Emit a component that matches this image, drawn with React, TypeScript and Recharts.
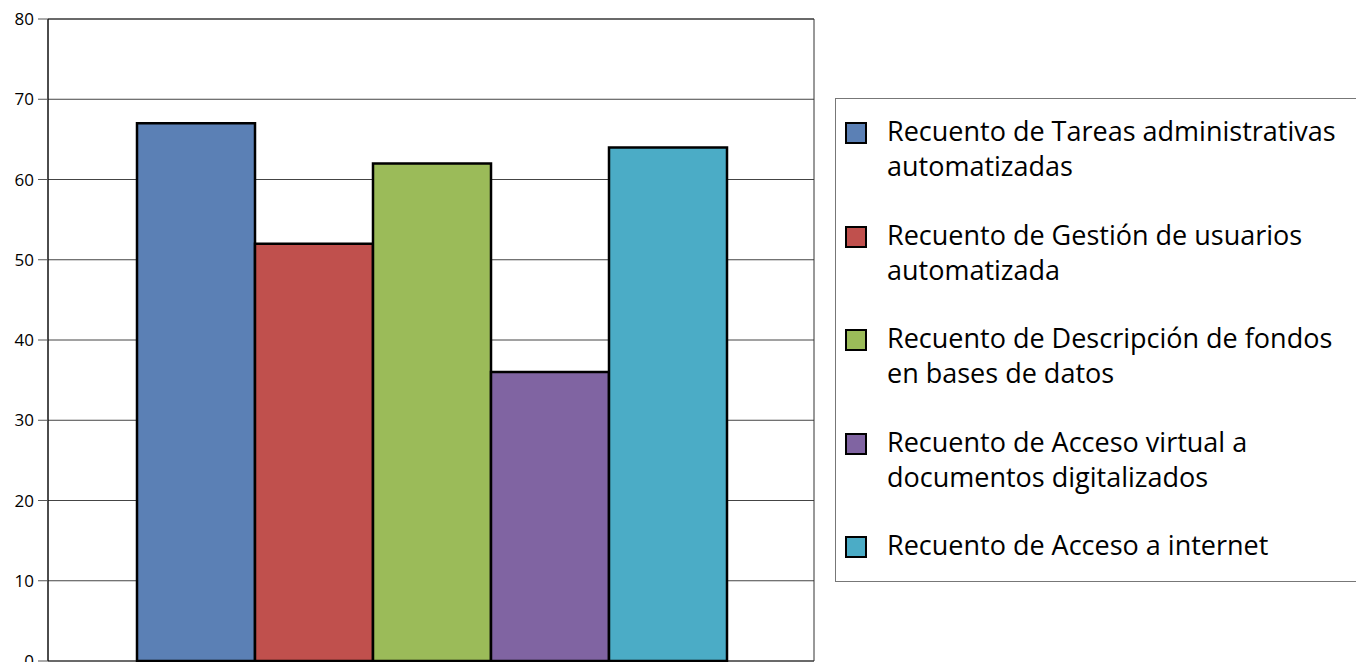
import { BarChart, Bar, XAxis, YAxis, CartesianGrid, ReferenceArea, Legend } from "recharts";

const SERIES = [
  "Recuento de Tareas administrativas automatizadas",
  "Recuento de Gestión de usuarios automatizada",
  "Recuento de Descripción de fondos en bases de datos",
  "Recuento de Acceso virtual a documentos digitalizados",
  "Recuento de Acceso a internet",
];
const LEGEND_LINES = [
  ["Recuento de Tareas administrativas", "automatizadas"],
  ["Recuento de Gestión de usuarios", "automatizada"],
  ["Recuento de Descripción de fondos", "en bases de datos"],
  ["Recuento de Acceso virtual a", "documentos digitalizados"],
  ["Recuento de Acceso a internet"],
];
const VALUES = [67, 52, 62, 36, 64];
const COLORS = ["#5b80b5", "#c0504d", "#9bbb59", "#8064a2", "#4bacc6"];
const Y_TICKS = [0, 10, 20, 30, 40, 50, 60, 70, 80];

const data = [
  SERIES.reduce((row: any, name, i) => {
    row[`s${i}`] = VALUES[i];
    return row;
  }, { cat: "" }),
];

function LegendBox() {
  return (
    <div
      style={{
        position: "absolute",
        left: 835,
        top: 98,
        width: 560,
        height: 484,
        border: "1px solid #777",
        background: "#fff",
        fontFamily: "'Open Sans', sans-serif",
        fontSize: 27,
        color: "#000",
        boxSizing: "border-box",
      }}
    >
      {LEGEND_LINES.map((lines, i) => (
        <div key={i} style={{ position: "absolute", left: 0, top: 16 + i * 103.5 }}>
          <div
            style={{
              position: "absolute",
              left: 9,
              top: 7,
              width: 18,
              height: 18,
              background: COLORS[i],
              border: "2px solid #000",
            }}
          />
          <div style={{ position: "absolute", left: 51, top: -2, lineHeight: "35px", whiteSpace: "nowrap" }}>
            {lines.map((l, j) => (
              <div key={j}>{l}</div>
            ))}
          </div>
        </div>
      ))}
    </div>
  );
}

export default function App() {
  return (
    <div style={{ position: "absolute", left: 0, top: 0, width: 1356, height: 662, overflow: "hidden", background: "#fff" }}>
      <BarChart
        width={1356}
        height={662}
        data={data}
        margin={{ top: 19, right: 542, left: 0, bottom: 1 }}
        barGap={0}
        barCategoryGap={89}
      >
        <CartesianGrid vertical={false} stroke="#444" strokeWidth={1} />
        <XAxis dataKey="cat" hide />
        <YAxis
          domain={[0, 80]}
          ticks={Y_TICKS}
          interval={0}
          width={48}
          tickSize={10}
          tickMargin={4}
          stroke="#000"
          tickLine={{ stroke: "#555" }}
          tick={{ fill: "#000", fontSize: 17, fontFamily: "'Open Sans', sans-serif" }}
        />
        <ReferenceArea y1={0} y2={80} fill="none" stroke="#333" strokeWidth={1} ifOverflow="visible" />
        {SERIES.map((name, i) => (
          <Bar
            key={name}
            dataKey={`s${i}`}
            name={name}
            fill={COLORS[i]}
            stroke="#000"
            strokeWidth={2.5}
            isAnimationActive={false}
          />
        ))}
        <Legend content={() => null} />
      </BarChart>
      <LegendBox />
    </div>
  );
}
